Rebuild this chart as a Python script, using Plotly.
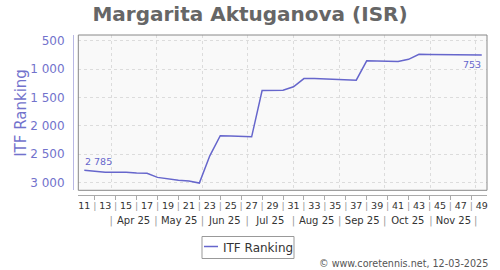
import pandas as pd
import plotly.graph_objects as go

# ---------------- data ----------------
player = "Margarita Aktuganova (ISR)"
series_name = "ITF Ranking"
first_week_date = "2025-03-14"
weeks = list(range(11, 50))
ranking = [2785, 2805, 2820, 2820, 2818, 2835, 2838, 2910, 2940, 2960,
           2975, 3010, 2530, 2175, 2180, 2190, 2195, 1378, 1376, 1372,
           1312, 1168, 1168, 1172, 1183, 1190, 1195, 855, 858, 865,
           868, 828, 738, 742, 745, 748, 760, 755, 753]
y_ticks = [500, 1000, 1500, 2000, 2500, 3000]
month_starts = ["2025-04-01", "2025-05-01", "2025-06-01", "2025-07-01", "2025-08-01",
                "2025-09-01", "2025-10-01", "2025-11-01", "2025-12-01"]
footer = "© www.coretennis.net, 12-03-2025"

# ---------------- derived ----------------
dates = [pd.Timestamp(first_week_date) + pd.Timedelta(days=7 * i) for i in range(len(weeks))]
fmt = lambda v: f"{v:,}".replace(",", " ")
SEP = "<span style='color:#9a9a9a'>|</span>"
week_text = [str(w) if w % 2 == 1 else SEP for w in weeks]
even_dates = [d for d, w in zip(dates, weeks) if w % 2 == 0]
ms = [pd.Timestamp(m) for m in month_starts]
mids = [ms[i] + (ms[i + 1] - ms[i]) / 2 for i in range(len(ms) - 1)]
month_vals = ms + mids
month_text = [SEP] * len(ms) + [m.strftime("%b %y") for m in ms[:-1]]

# ---------------- geometry ----------------
W, H = 500, 270
L, R, T, B = 73, 13, 35, 75
pw, ph = W - L - R, H - T - B
px = lambda x: (x - L) / pw
py = lambda y: (H - B - y) / ph

LINE = "#6666cc"
AXC = "#7272cc"
FONT = "DejaVu Sans"
x_range = [pd.Timestamp("2025-03-10"), pd.Timestamp("2025-12-08 12:00")]
x_dom = [px(78.3), 1]
y_dom = [py(190.3), 1]

fig = go.Figure()
fig.add_trace(go.Scatter(x=dates, y=ranking, mode="lines", name=series_name,
                         line=dict(color=LINE, width=1.5), showlegend=False))
# empty helper traces so overlay axes are drawn
for ax in ["x2", "x3", "x4"]:
    fig.add_trace(go.Scatter(x=[], y=[], xaxis=ax, showlegend=False, hoverinfo="skip"))

common_x = dict(type="date", range=x_range, domain=x_dom, fixedrange=True)
fig.update_layout(
    width=W, height=H,
    margin=dict(l=L, r=R, t=T, b=B),
    paper_bgcolor="white", plot_bgcolor="#f9f9f9",
    font=dict(family=FONT, color="#333"),
    showlegend=False,
    title=dict(text=player, x=0.5, xref="container", xanchor="center",
               y=1 - 14 / H, yref="container", yanchor="middle",
               font=dict(family=FONT, size=20, color="#666", weight="bold")),
    xaxis=dict(**common_x, anchor="free", position=0, showline=True, linecolor="#aaaaaa",
               linewidth=1, tickmode="array", tickvals=dates, ticktext=week_text,
               ticks="", showgrid=False, zeroline=False, ticklabelstandoff=2,
               tickfont=dict(size=9.5, color="#333")),
    xaxis2=dict(**common_x, overlaying="x", anchor="free", position=0, showline=False,
                tickmode="array", tickvals=even_dates, ticks="outside", ticklen=4,
                tickcolor="#aaaaaa", showticklabels=False, showgrid=False, zeroline=False),
    xaxis3=dict(**common_x, overlaying="x", anchor="y", showline=False,
                tickmode="array", tickvals=ms, ticks="", showticklabels=False,
                showgrid=True, gridcolor="#dcdcdc", griddash="3px,3px", gridwidth=1,
                zeroline=False),
    xaxis4=dict(**common_x, overlaying="x", anchor="free", position=0, showline=False,
                tickmode="array", tickvals=month_vals, ticktext=month_text, ticks="",
                showgrid=False, zeroline=False, ticklabelstandoff=18,
                tickfont=dict(size=10, color="#333")),
    yaxis=dict(domain=y_dom, anchor="free", position=0, range=[3138, 399],
               fixedrange=True, showline=True, linecolor="#b8b8e4", linewidth=1,
               tickmode="array", tickvals=y_ticks, ticktext=[fmt(v) for v in y_ticks],
               ticks="", ticklabelstandoff=6, showgrid=True, gridcolor="#dcdcdc",
               griddash="3px,3px", zeroline=False,
               tickfont=dict(size=12, color=AXC)),
)

# y-axis title
fig.add_annotation(xref="paper", yref="paper", x=px(21), y=py((35.3 + 190.3) / 2),
                   text=series_name, textangle=-90, showarrow=False,
                   xanchor="center", yanchor="middle",
                   font=dict(size=15, color=AXC))

# plot border
fig.add_shape(type="rect", xref="x domain", yref="y domain", x0=0, x1=1, y0=0, y1=1,
              line=dict(color="#888888", width=1), layer="above")

# first / last value labels
fig.add_annotation(x=dates[0], y=ranking[0], text=fmt(ranking[0]), showarrow=False,
                   xanchor="left", yanchor="middle", yshift=8.5, xshift=-1,
                   font=dict(size=9.5, color=LINE))
fig.add_annotation(x=dates[-1], y=ranking[-1], text=fmt(ranking[-1]), showarrow=False,
                   xanchor="right", yanchor="middle", yshift=-9.5, xshift=1,
                   font=dict(size=9.5, color=LINE))

# legend (box + line + label)
fig.add_shape(type="rect", xref="paper", yref="paper", x0=px(202), x1=px(294),
              y0=py(258.5), y1=py(236.5), line=dict(color="#999999", width=1),
              fillcolor="white")
fig.add_shape(type="line", xref="paper", yref="paper", x0=px(204), x1=px(218),
              y0=py(246.5), y1=py(246.5), line=dict(color=LINE, width=1.5))
fig.add_annotation(xref="paper", yref="paper", x=px(221), y=py(247.5), text=series_name,
                   showarrow=False, xanchor="left", yanchor="middle",
                   font=dict(size=12, color="#333"))

# footer
fig.add_annotation(xref="paper", yref="paper", x=px(489.5), y=py(263), text=footer,
                   showarrow=False, xanchor="right", yanchor="middle",
                   font=dict(size=9.6, color="#555"))

fig.write_html("out.html")
